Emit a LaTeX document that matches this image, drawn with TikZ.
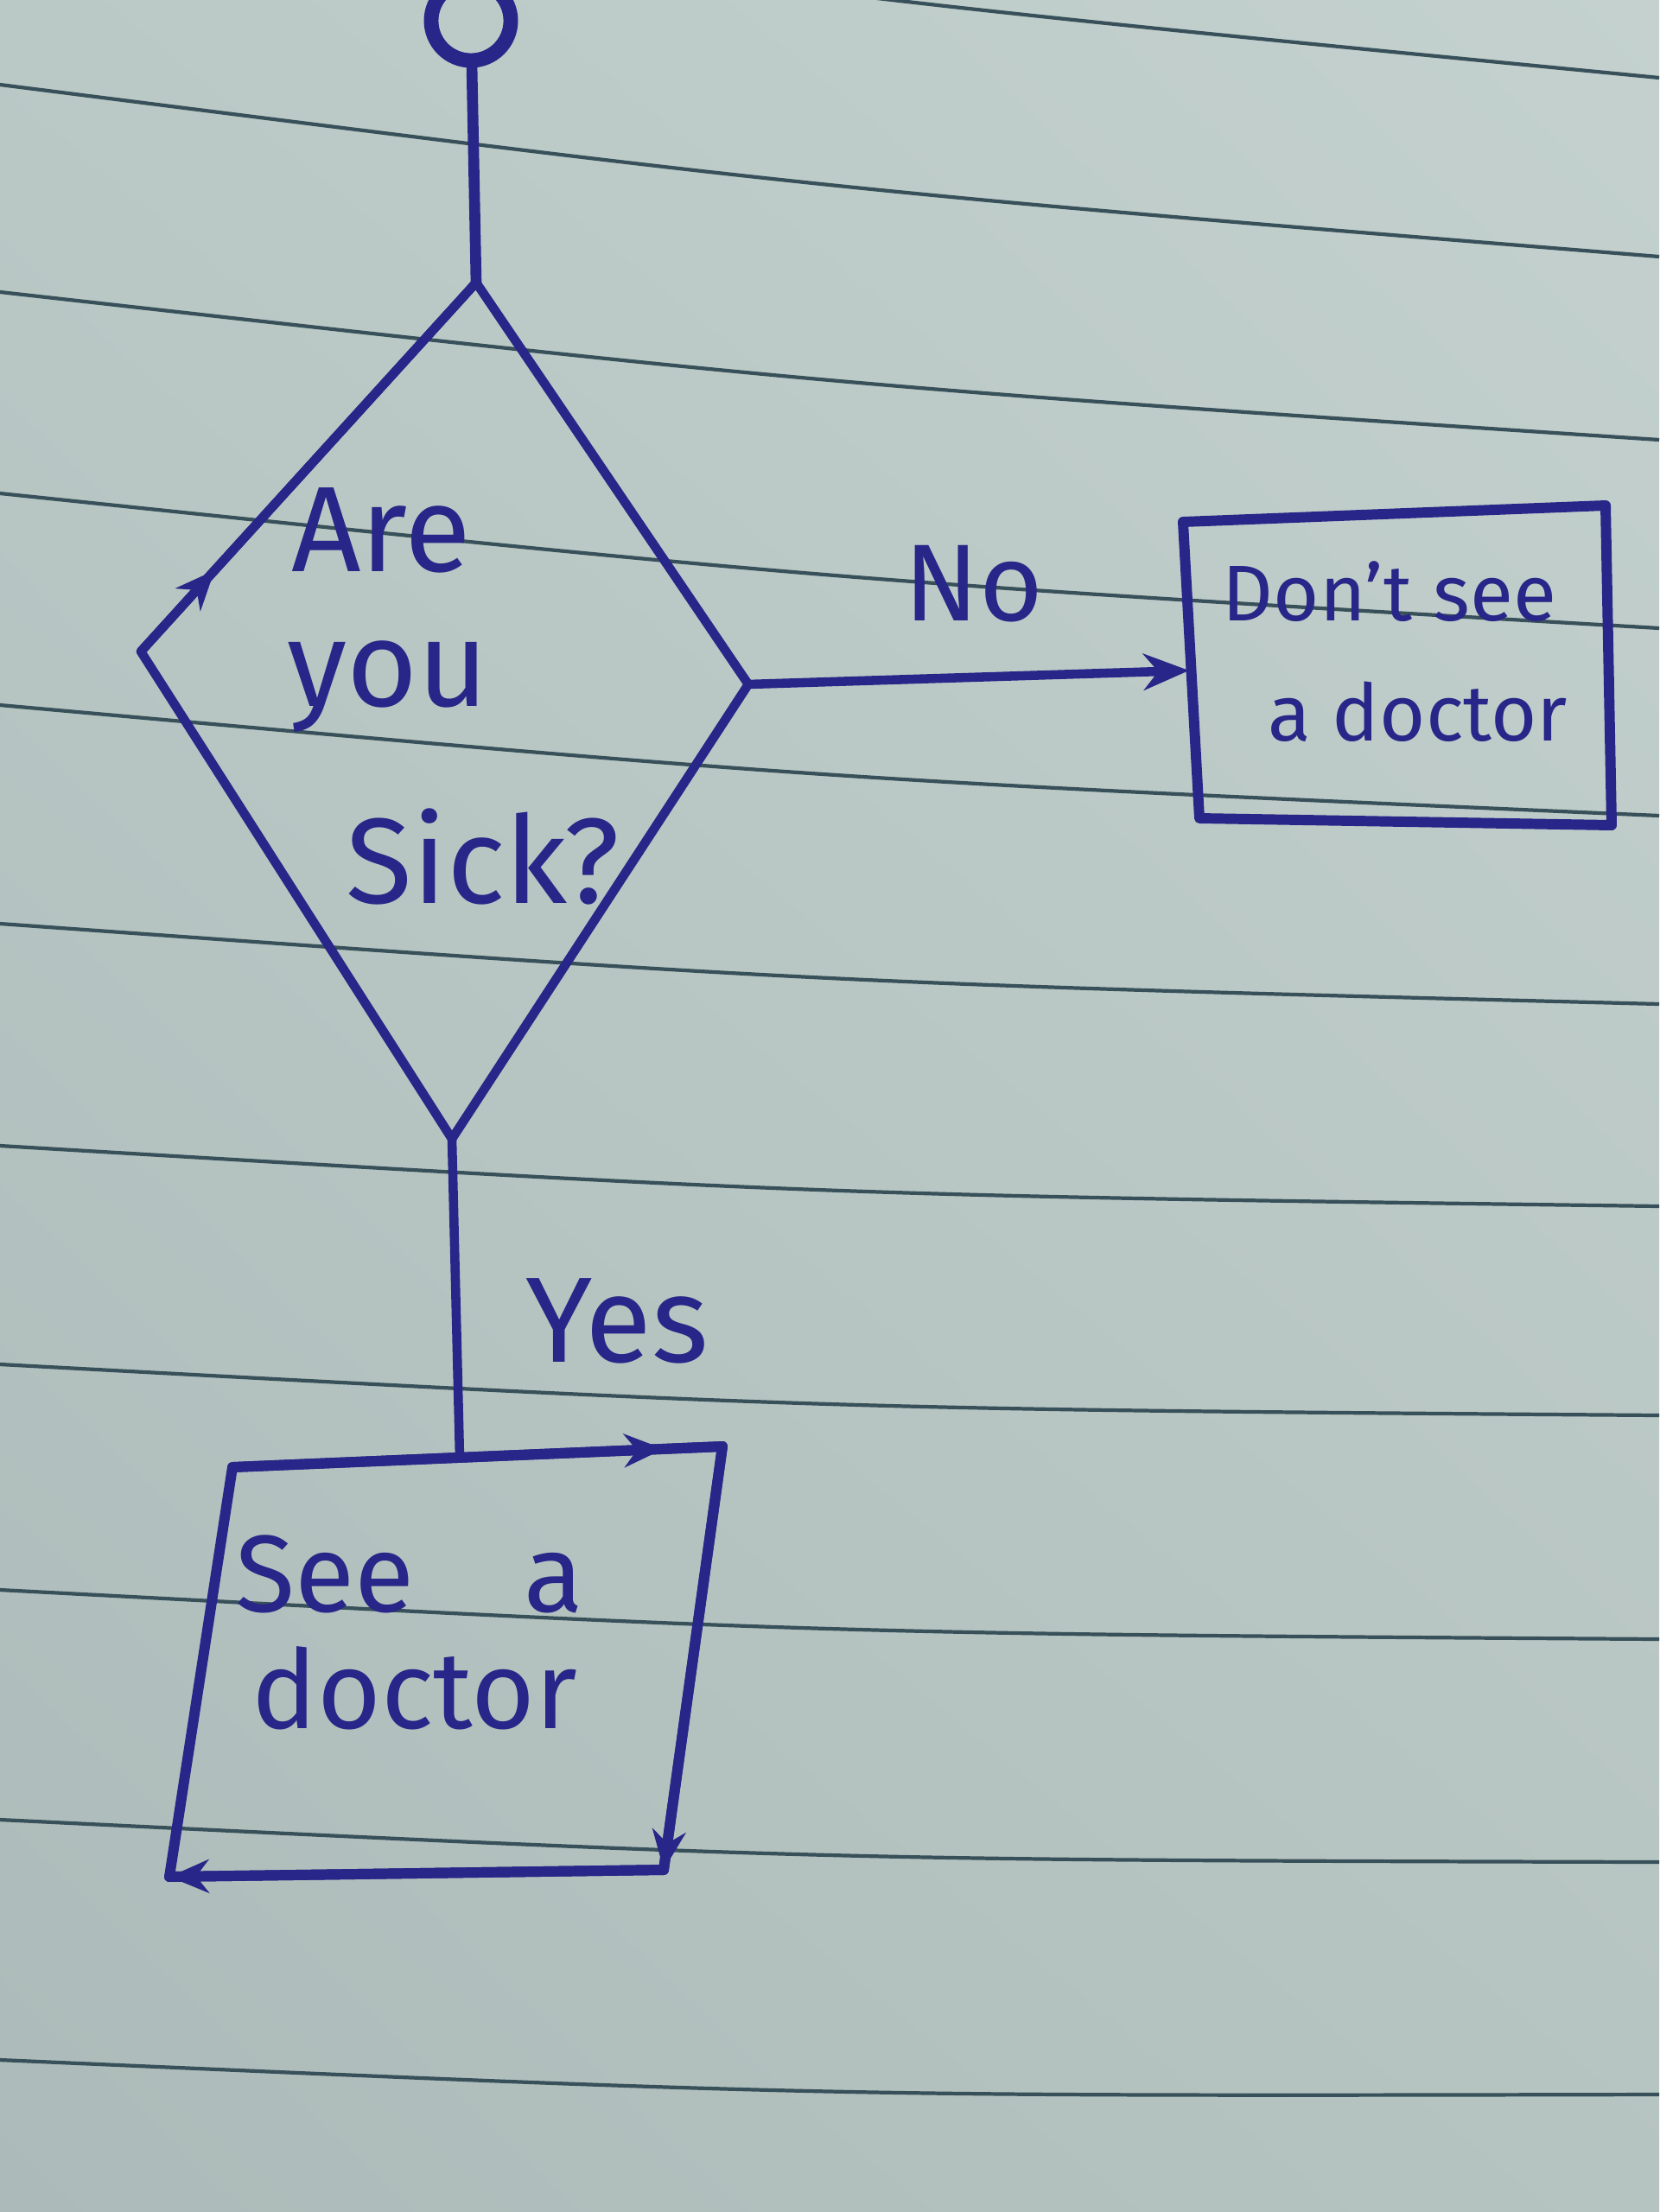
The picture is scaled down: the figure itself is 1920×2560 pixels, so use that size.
\documentclass[tikz,border=0pt]{standalone}
\usepackage{fontspec}
\setmainfont{Fira Sans}
\usetikzlibrary{arrows.meta,decorations.markings,shadings}
\definecolor{paperUL}{RGB}{186,201,198}
\definecolor{paperUR}{RGB}{196,209,206}
\definecolor{paperLL}{RGB}{172,187,185}
\definecolor{paperLR}{RGB}{182,196,193}
\definecolor{rulecol}{RGB}{56,80,90}
\definecolor{ink}{RGB}{40,38,136}
\begin{document}
\begin{tikzpicture}[x=0.01cm,y=-0.01cm,
  ruled/.style={draw=rulecol,line width=1.2pt},
  inkline/.style={draw=ink,line width=3pt,line join=round,line cap=round},
  boxline/.style={draw=ink,line width=3.4pt,line join=round,line cap=round},
  flowarrow/.style={inkline,-{Stealth[length=15pt,width=12pt]}},
  edgemark/.style={decoration={markings,mark=at position #1 with {\arrow{Stealth[length=13pt,width=11pt]}}},postaction={decorate}},
  bigtext/.style={text=ink,font=\fontsize{40}{48}\selectfont,inner sep=0pt},
  midtext/.style={text=ink,font=\fontsize{36}{44}\selectfont,inner sep=0pt},
  smalltext/.style={text=ink,font=\fontsize{26}{32}\selectfont,inner sep=0pt}]

\useasboundingbox (0,0) rectangle (1920,2560);
\shade[upper left=paperUL,upper right=paperUR,lower left=paperLL,lower right=paperLR] (0,0) rectangle (1920,2560);

% ruled paper lines
\foreach \l/\r in {-140/90, 98/297, 338/509, 571/727, 816/944, 1069/1162, 1326/1396, 1579/1638, 1840/1897, 2106/2155, 2384/2424}
  \draw[ruled] (0,\l) .. controls (960,{(\l+\r)/2+22}) .. (1920,\r);

% start terminal
\node[draw=ink,line width=4.8pt,circle,minimum size=0.92cm,inner sep=0pt] (start) at (545,24) {};

% decision diamond
\coordinate (dT) at (551,327);
\coordinate (dR) at (866,792);
\coordinate (dB) at (523,1318);
\coordinate (dL) at (163,754);
\draw[inkline] (dT) -- (dR) -- (dB) -- (dL) -- cycle;
\draw[inkline,edgemark=0.22] (dL) -- (dT);
\node[bigtext,anchor=base] (qa) at (441,661) {Are};
\node[bigtext,anchor=base] (qb) at (449,817) {you};
\node[bigtext,anchor=base] (qc) at (559,1045) {Sick?};

% "Don't see a doctor" box
\coordinate (nTL) at (1369,604);
\coordinate (nTR) at (1858,585);
\coordinate (nBR) at (1865,955);
\coordinate (nBL) at (1388,947);
\coordinate (nW) at (1376,776);
\draw[boxline] (nTL) -- (nTR) -- (nBR) -- (nBL) -- cycle;
\node[smalltext,anchor=base] (nt1) at (1608,718) {Don't see};
\node[smalltext,anchor=base] (nt2) at (1641,857) {a doctor};

% "See a doctor" box
\coordinate (sTL) at (269,1698);
\coordinate (sTR) at (836,1674);
\coordinate (sBR) at (768,2164);
\coordinate (sBL) at (196,2172);
\coordinate (sT) at (532,1687);
\draw[boxline] (sTL) -- (sTR) -- (sBR) -- (sBL) -- cycle;
\draw[boxline,edgemark=0.88] (sTL) -- (sTR);
\draw[boxline,edgemark=1] (sTR) -- (sBR);
\draw[boxline,edgemark=1] (sBR) -- (sBL);
\node[midtext,anchor=base] (st1) at (474,1865) {See\quad a};
\node[midtext,anchor=base] (st2) at (480,2000) {doctor};

% connectors
\draw[inkline,line width=3.6pt] (start) -- (dT);
\draw[flowarrow] (dR) -- (nW);
\draw[inkline] (dB) -- (sT);

% labels
\node[midtext,anchor=base] (lno) at (1127,718) {No};
\node[bigtext,anchor=base] (lyes) at (714,1576) {Yes};
\end{tikzpicture}
\end{document}
